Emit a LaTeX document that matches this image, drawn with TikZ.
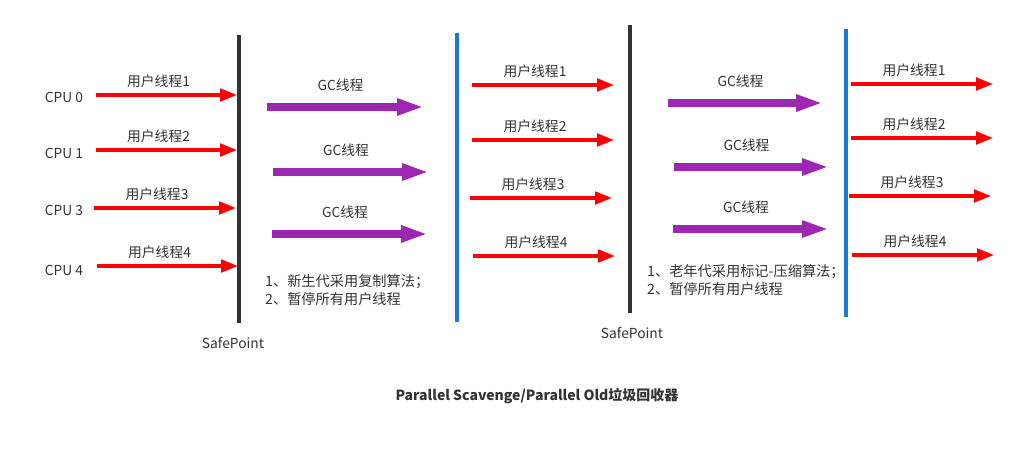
\documentclass[tikz,border=0pt]{standalone}
\usepackage{fontspec}
\setmainfont{Noto Sans CJK SC}
\usepackage{tikz}
\usetikzlibrary{arrows.meta}
\definecolor{userred}{HTML}{FF0000}
\definecolor{gcpurple}{HTML}{9C27B0}
\definecolor{resumeblue}{HTML}{1E78D7}
\definecolor{pausegray}{HTML}{333333}
\definecolor{textgray}{HTML}{333333}
\tikzset{
  gcfig/.style={x=1pt,y=-1pt,
    every node/.style={font=\fontsize{13.8}{17}\selectfont,text=textgray,inner sep=1pt}},
  userarrow/.style={draw=userred,line width=3.5pt,
    -{Triangle[length=17pt,width=12.5pt]}},
  gcarrow/.style={draw=gcpurple,line width=7.5pt,
    -{Triangle[length=27pt,width=15.5pt]}},
  threadlabel/.style={midway,xshift=-8pt,yshift=14pt},
  gclabel/.style={midway,xshift=-5pt,yshift=22pt},
  safeline/.style={draw=pausegray,line width=4pt},
  resumeline/.style={draw=resumeblue,line width=4pt},
  notetext/.style={anchor=west,align=left,font=\fontsize{14.2}{18}\selectfont},
}

\begin{document}
\begin{tikzpicture}[gcfig]
    \useasboundingbox (0,0) rectangle (1017,452);

    % safepoints and resume lines
    \coordinate (spatop) at (239,35);  \coordinate (spabot) at (239,323);
    \coordinate (rsatop) at (457,33);  \coordinate (rsabot) at (457,322);
    \coordinate (spbtop) at (630,25);  \coordinate (spbbot) at (630,313);
    \coordinate (rsbtop) at (846,29);  \coordinate (rsbbot) at (846,317);
    \draw[safeline] (spatop) -- (spabot);
    \draw[resumeline] (rsatop) -- (rsabot);
    \draw[safeline] (spbtop) -- (spbbot);
    \draw[resumeline] (rsbtop) -- (rsbbot);
    \node (spalabel) at (233,343) {SafePoint};
    \node (spblabel) at (632,333) {SafePoint};

    % cpus
    \node (cpu0) at (64,97) {CPU 0};
    \node (cpu1) at (64,153) {CPU 1};
    \node (cpu3) at (64,210) {CPU 3};
    \node (cpu4) at (64,270) {CPU 4};

    % user threads before the first safepoint
    \coordinate (ua1s) at (96,95);  \coordinate (ua1e) at (237,95);
    \coordinate (ua2s) at (96,150); \coordinate (ua2e) at (237,150);
    \coordinate (ua3s) at (94,208); \coordinate (ua3e) at (236,208);
    \coordinate (ua4s) at (97,266); \coordinate (ua4e) at (238,266);
    \draw[userarrow] (ua1s) -- node[threadlabel] {用户线程1} (ua1e);
    \draw[userarrow] (ua2s) -- node[threadlabel] {用户线程2} (ua2e);
    \draw[userarrow] (ua3s) -- node[threadlabel] {用户线程3} (ua3e);
    \draw[userarrow] (ua4s) -- node[threadlabel] {用户线程4} (ua4e);

    % young generation gc threads
    \coordinate (ga1s) at (267,107); \coordinate (ga1e) at (424,107);
    \coordinate (ga2s) at (273,172); \coordinate (ga2e) at (429,172);
    \coordinate (ga3s) at (272,234); \coordinate (ga3e) at (428,234);
    \draw[gcarrow] (ga1s) -- node[gclabel] {GC线程} (ga1e);
    \draw[gcarrow] (ga2s) -- node[gclabel] {GC线程} (ga2e);
    \draw[gcarrow] (ga3s) -- node[gclabel] {GC线程} (ga3e);
    \node[notetext] (notea) at (264,290) {1、新生代采用复制算法；\\2、暂停所有用户线程};

    % user threads between the phases
    \coordinate (ub1s) at (472,85);  \coordinate (ub1e) at (614,85);
    \coordinate (ub2s) at (472,140); \coordinate (ub2e) at (614,140);
    \coordinate (ub3s) at (470,198); \coordinate (ub3e) at (612,198);
    \coordinate (ub4s) at (473,256); \coordinate (ub4e) at (615,256);
    \draw[userarrow] (ub1s) -- node[threadlabel] {用户线程1} (ub1e);
    \draw[userarrow] (ub2s) -- node[threadlabel] {用户线程2} (ub2e);
    \draw[userarrow] (ub3s) -- node[threadlabel] {用户线程3} (ub3e);
    \draw[userarrow] (ub4s) -- node[threadlabel] {用户线程4} (ub4e);

    % old generation gc threads
    \coordinate (gb1s) at (668,103); \coordinate (gb1e) at (823,103);
    \coordinate (gb2s) at (674,167); \coordinate (gb2e) at (829,167);
    \coordinate (gb3s) at (673,229); \coordinate (gb3e) at (829,229);
    \draw[gcarrow] (gb1s) -- node[gclabel] {GC线程} (gb1e);
    \draw[gcarrow] (gb2s) -- node[gclabel] {GC线程} (gb2e);
    \draw[gcarrow] (gb3s) -- node[gclabel] {GC线程} (gb3e);
    \node[notetext] (noteb) at (646,280) {1、老年代采用标记-压缩算法；\\2、暂停所有用户线程};

    % user threads after the second phase
    \coordinate (uc1s) at (851,84);  \coordinate (uc1e) at (993,84);
    \coordinate (uc2s) at (851,138); \coordinate (uc2e) at (993,138);
    \coordinate (uc3s) at (849,196); \coordinate (uc3e) at (991,196);
    \coordinate (uc4s) at (852,255); \coordinate (uc4e) at (994,255);
    \draw[userarrow] (uc1s) -- node[threadlabel] {用户线程1} (uc1e);
    \draw[userarrow] (uc2s) -- node[threadlabel] {用户线程2} (uc2e);
    \draw[userarrow] (uc3s) -- node[threadlabel] {用户线程3} (uc3e);
    \draw[userarrow] (uc4s) -- node[threadlabel] {用户线程4} (uc4e);

    \node[font=\fontsize{14}{17}\selectfont\bfseries] (title) at (537,396)
      {Parallel Scavenge/Parallel Old垃圾回收器};
\end{tikzpicture}
\end{document}
